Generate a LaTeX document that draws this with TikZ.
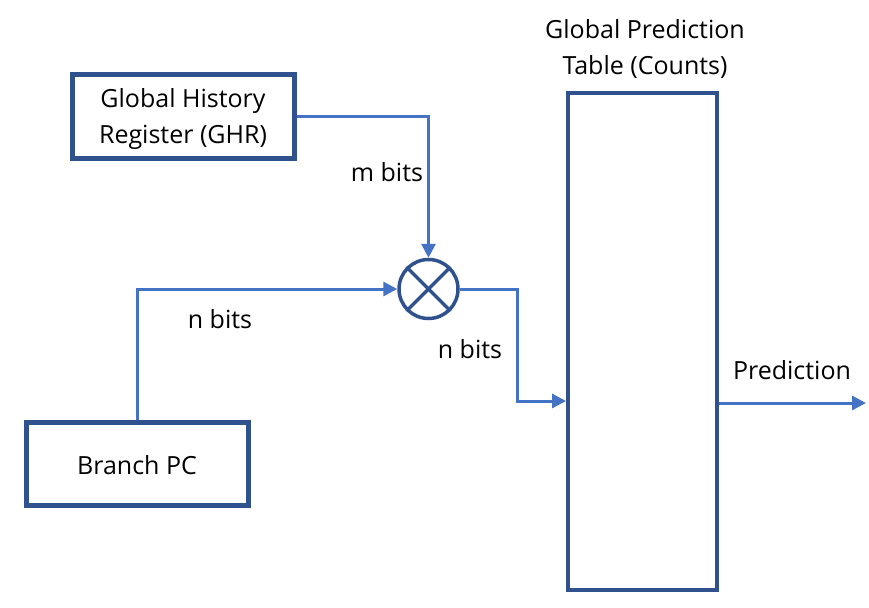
\documentclass[tikz,border=0pt]{standalone}
\usepackage{fontspec}
\setmainfont{Open Sans}
\usetikzlibrary{arrows.meta}
\definecolor{boxblue}{HTML}{2F528F}
\definecolor{lineblue}{HTML}{4472C4}
\begin{document}
\begin{tikzpicture}[x=1pt,y=-1pt,
  blk/.style={draw=boxblue,line width=5pt,fill=white,inner sep=0pt,font=\fontsize{25}{35}\selectfont,align=center},
  conn/.style={draw=lineblue,line width=3pt,-{Triangle[length=14pt,width=14pt]}},
  lbl/.style={font=\fontsize{25}{36}\selectfont,align=center,inner sep=0pt}]
\useasboundingbox (0,0) rectangle (869,607);
\node[blk,minimum width=222pt,minimum height=83pt] (ghr) at (183,116.5) {};
\node[lbl] (ghrt) at (183,119) {Global History\\Register (GHR)};
\node[blk,minimum width=222pt,minimum height=83pt] (pc) at (137,463.5) {};
\node[lbl] (pct) at (137,465) {Branch PC};
\node[draw=boxblue,line width=4pt,minimum width=149pt,minimum height=497pt,inner sep=0pt] (tab) at (642.5,341.5) {};
\node[draw=boxblue,line width=3.5pt,circle,minimum size=59pt,inner sep=0pt] (x) at (428.5,289) {};
\draw[boxblue,line width=3.5pt] (x.45) -- (x.225) (x.135) -- (x.-45);
\coordinate (pend) at (866,403);
\draw[conn] (ghr.east |- 0,117) -| (x.north);
\draw[conn] (pc.north) |- (x.west);
\draw[conn] (x.east) -| (517,401) -- (tab.west |- 0,401);
\draw[conn] (tab.east |- pend) -- (pend);
\node[lbl] (lm) at (387,172) {m bits};
\node[lbl] (ln1) at (220,319) {n bits};
\node[lbl] (ln2) at (470,349) {n bits};
\node[lbl] (lp) at (792,370) {Prediction};
\node[lbl] (lt) at (645,49) {Global Prediction\\Table (Counts)};
\end{tikzpicture}
\end{document}
